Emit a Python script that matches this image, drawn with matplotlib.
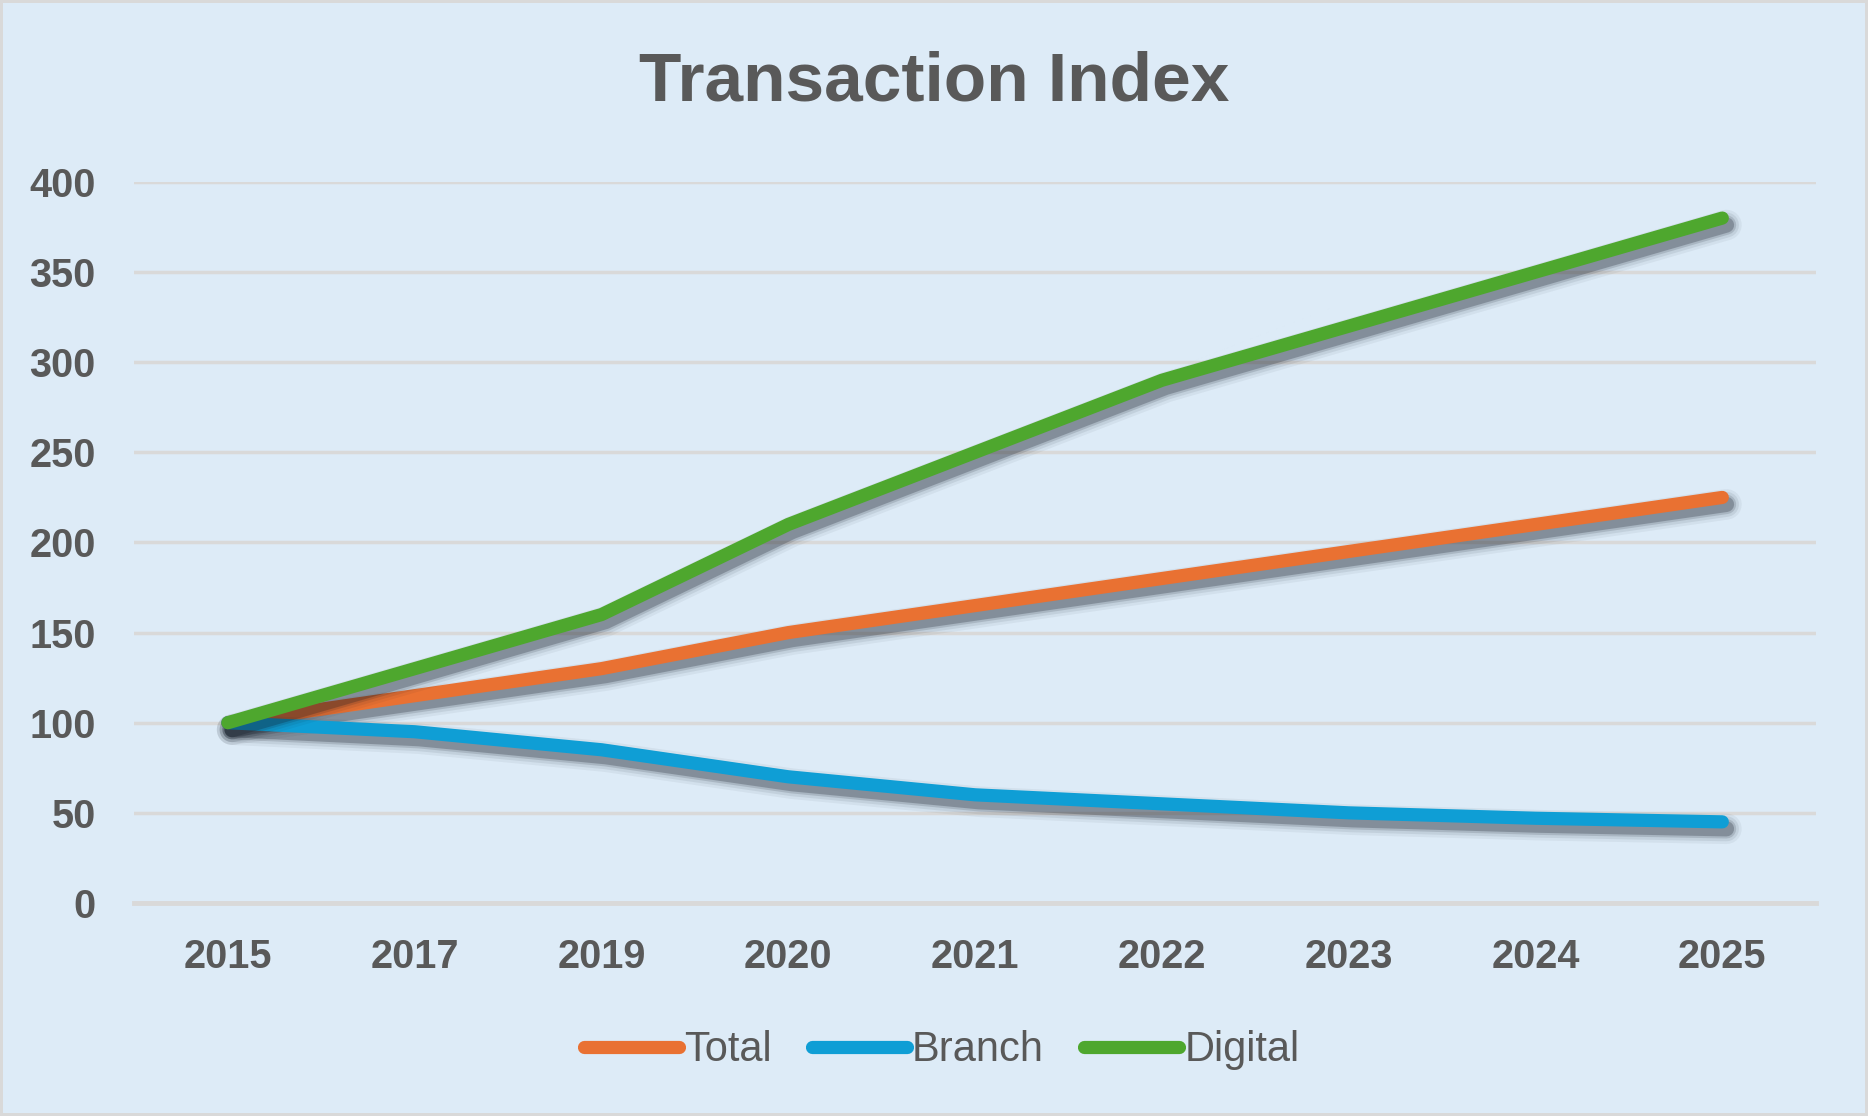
import matplotlib.pyplot as plt
import matplotlib.patheffects as pe

years = ['2015', '2017', '2019', '2020', '2021', '2022', '2023', '2024', '2025']
total = [100, 115, 130, 150, 165, 180, 195, 210, 225]
branch = [100, 95, 85, 70, 60, 55, 50, 47, 45]
digital = [100, 130, 160, 210, 250, 290, 320, 350, 380]

series = [('Total', total, '#E97132'),
          ('Branch', branch, '#0F9ED5'),
          ('Digital', digital, '#4EA72E')]

bg = '#DDEBF7'
txt = '#595959'

fig = plt.figure(figsize=(18.68, 11.16), dpi=100, facecolor=bg,
                 edgecolor='#D9D9D9', linewidth=4)
ax = fig.add_axes([0.072, 0.1909, 0.900, 0.646])
ax.set_facecolor(bg)

# soft shadow under each line
shadow = [pe.SimpleLineShadow(offset=(3, -5), shadow_color='#121a26', alpha=a, linewidth=w)
          for w, a in [(22, 0.05), (18, 0.08), (14, 0.14), (11, 0.25)]]

x = range(len(years))
for name, vals, col in series:
    ax.plot(x, vals, color=col, lw=9.5, solid_capstyle='round', solid_joinstyle='round',
            label=name, path_effects=shadow + [pe.Normal()], zorder=3)

ax.set_ylim(0, 400)
ax.set_xlim(-0.5, 8.5)
ax.set_yticks(range(0, 401, 50))
ax.set_xticks(list(x))
ax.set_xticklabels(years)
ax.grid(axis='y', color='#D9D9D9', lw=2.5)
ax.set_axisbelow(True)
for s in ['top', 'right', 'left']:
    ax.spines[s].set_visible(False)
ax.spines['bottom'].set_color('#D9D9D9')
ax.spines['bottom'].set_linewidth(3.5)
ax.tick_params(length=0, labelsize=28.5, labelcolor=txt)
ax.tick_params(axis='x', pad=25)
ax.tick_params(axis='y', pad=28)
for lb in ax.get_xticklabels() + ax.get_yticklabels():
    lb.set_fontweight('bold')
    lb.set_fontfamily('Liberation Sans')

fig.text(0.5, 0.926, 'Transaction Index', ha='center', va='center', fontsize=50,
         fontweight='bold', color=txt, family='Liberation Sans')

leg = fig.legend(loc='center', bbox_to_anchor=(0.504, 0.059), ncol=3, frameon=False,
                 handlelength=2.28, handletextpad=0.12, columnspacing=0.97,
                 prop={'family': 'Liberation Sans', 'size': 30})
for t in leg.get_texts():
    t.set_color(txt)
for h in leg.get_lines():
    h.set_path_effects([pe.Normal()])
    h.set_solid_capstyle('round')

fig.savefig('out.png', dpi=100, facecolor=bg, edgecolor='#D9D9D9')
